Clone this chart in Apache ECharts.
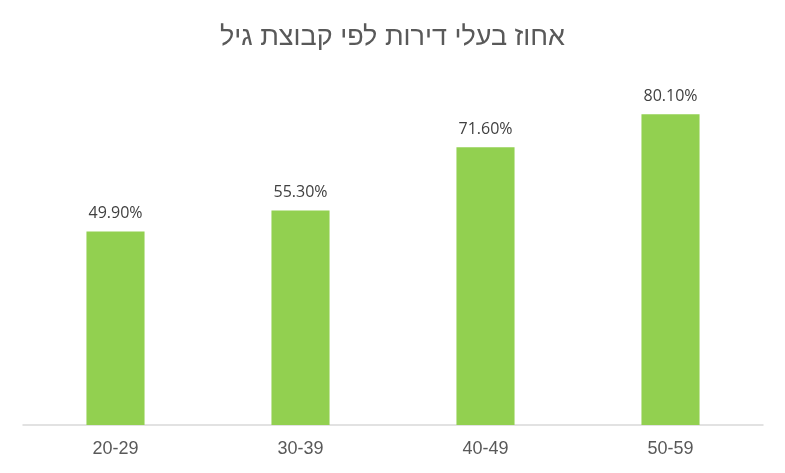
<!DOCTYPE html>
<html><head><meta charset="utf-8">
<script src="https://cdn.jsdelivr.net/npm/echarts@6/dist/echarts.min.js"></script>
<style>html,body{margin:0;padding:0;background:#fff}#c{width:785px;height:473px}</style>
</head><body><div id="c"></div>
<script>
var titleText = 'אחוז בעלי דירות לפי קבוצת גיל';
var categories = ['20-29', '30-39', '40-49', '50-59'];
var values = [49.9, 55.3, 71.6, 80.1];

var chart = echarts.init(document.getElementById('c'), null, {renderer: 'canvas'});
chart.setOption({
  animation: false,
  backgroundColor: '#ffffff',
  title: {
    text: titleText,
    left: 'center',
    top: 19,
    textStyle: {fontFamily: "'Liberation Sans', Arial, sans-serif", fontSize: 27, fontWeight: 'normal', color: '#595959'}
  },
  grid: {left: 23, right: 22, top: 37, bottom: 48, containLabel: false},
  xAxis: {
    type: 'category',
    data: categories,
    axisLine: {lineStyle: {color: '#d9d9d9', width: 1.5}},
    axisTick: {show: false},
    axisLabel: {margin: 15, fontFamily: "'Liberation Sans', Arial, sans-serif", fontSize: 18, color: '#595959'}
  },
  yAxis: {
    type: 'value', min: 0, max: 100,
    show: false,
    splitLine: {show: false}
  },
  series: [{
    type: 'bar',
    data: values,
    barWidth: '31.4%',
    itemStyle: {color: '#92d050'},
    label: {
      show: true, position: 'top', distance: 10,
      formatter: function (p) { return p.value.toFixed(2) + '%'; },
      fontFamily: "'Open Sans', 'Liberation Sans', sans-serif", fontSize: 16, color: '#404040'
    }
  }]
});
</script></body></html>
